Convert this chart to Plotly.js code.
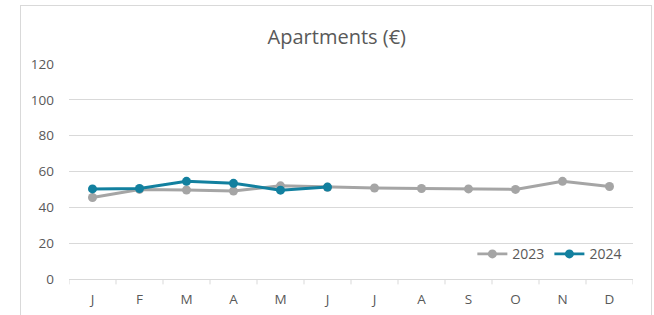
<!DOCTYPE html>
<html>
<head>
<meta charset="utf-8">
<script src="https://cdn.plot.ly/plotly-3.0.1.min.js"></script>
<style>
  html, body { margin: 0; padding: 0; background: #fff; overflow: hidden; }
  #chart { position: absolute; left: 0; top: 0; width: 654px; height: 315px; }
  #frame { position: absolute; left: 20px; top: 5px; width: 632px; height: 330px; border: 1px solid #d9d9d9; pointer-events: none; box-sizing: border-box; }
</style>
</head>
<body>
<div id="chart"></div>
<div id="frame"></div>
<script>
const months = ["J", "F", "M", "A", "M", "J", "J", "A", "S", "O", "N", "D"];
const series2023 = [45.5, 50.0, 49.7, 49.1, 52.0, 51.2, 50.8, 50.5, 50.3, 50.0, 54.5, 51.6];
const series2024 = [50.3, 50.5, 54.5, 53.4, 49.6, 51.3];
const seriesNames = ["2023", "2024"];
const yTicks = [0, 20, 40, 60, 80, 100, 120];

const xIdx = months.map((m, i) => i);
const fontFam = "Open Sans, Noto Sans, sans-serif";
const textColor = "#595959";

const traces = [
  {
    x: xIdx, y: series2023, name: seriesNames[0], type: "scatter", mode: "lines+markers",
    line: { color: "#a5a5a5", width: 3 },
    marker: { color: "#a5a5a5", size: 9 }
  },
  {
    x: xIdx.slice(0, series2024.length), y: series2024, name: seriesNames[1], type: "scatter", mode: "lines+markers",
    line: { color: "#12809f", width: 3 },
    marker: { color: "#12809f", size: 9 }
  }
];

const layout = {
  width: 654, height: 315,
  margin: { l: 69, r: 21, t: 64, b: 36, pad: 0 },
  paper_bgcolor: "#ffffff", plot_bgcolor: "#ffffff",
  font: { family: fontFam, size: 13.5, color: textColor },
  title: { text: "Apartments (€)", x: 0.515, xanchor: "center", y: 0.884, yanchor: "middle",
           font: { family: fontFam, size: 20, color: textColor } },
  showlegend: true,
  legend: { orientation: "h", x: 0.99, xanchor: "right", y: 0.115, yanchor: "middle",
            font: { family: fontFam, size: 14, color: textColor }, bgcolor: "rgba(0,0,0,0)",
            traceorder: "normal", itemwidth: 30 },
  xaxis: {
    type: "linear", range: [-0.5, 11.5],
    tickmode: "array", tickvals: xIdx, ticktext: months,
    showgrid: false, zeroline: false,
    showline: true, linecolor: "#d9d9d9", linewidth: 1,
    ticks: "", ticklabelstandoff: 8,
    tickfont: { family: fontFam, size: 13.5, color: textColor },
    fixedrange: true
  },
  yaxis: {
    range: [0, 120], tickmode: "array", tickvals: yTicks, ticktext: yTicks.map(String),
    showgrid: true, gridcolor: "#d9d9d9", gridwidth: 1,
    zeroline: false, showline: false, ticks: "", ticklabelstandoff: 14,
    tickfont: { family: fontFam, size: 13.5, color: textColor },
    fixedrange: true
  },
  shapes: xIdx.concat([12]).map(i => ({
    type: "line", xref: "x", yref: "paper",
    x0: i - 0.5, x1: i - 0.5, y0: 0, y1: -0.025,
    line: { color: "#d9d9d9", width: 1 }
  }))
};

Plotly.newPlot("chart", traces, layout, { staticPlot: true, displayModeBar: false });
</script>
</body>
</html>
